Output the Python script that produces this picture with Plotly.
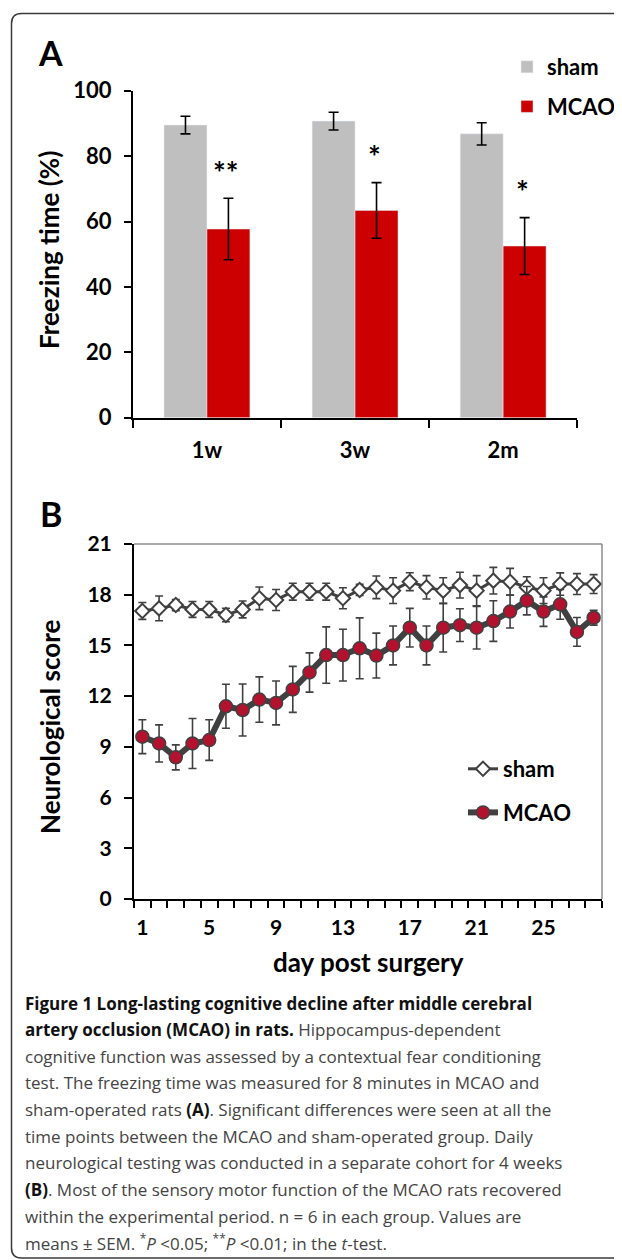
import plotly.graph_objects as go

# ---------------- data ----------------
groups = ["sham", "MCAO"]
timepoints = ["1w", "3w", "2m"]
sham_freeze = [89.5, 90.7, 86.8]
sham_freeze_err = [2.7, 2.7, 3.4]
mcao_freeze = [57.7, 63.4, 52.5]
mcao_freeze_err = [9.4, 8.5, 8.7]
signif = ["**", "*", "*"]

days = list(range(1, 29))
day_tick_labels = [1, 5, 9, 13, 17, 21, 25]
sham_score = [17.04, 17.19, 17.39, 17.13, 17.13, 16.8, 17.13, 17.79, 17.69, 18.18,
              18.18, 18.18, 17.79, 18.28, 18.44, 18.24, 18.77, 18.44, 18.24, 18.57,
              18.24, 18.83, 18.77, 18.44, 18.24, 18.63, 18.63, 18.63]
sham_score_err = [0.5, 0.73, 0.33, 0.47, 0.47, 0.4, 0.5, 0.67, 0.62, 0.5,
                  0.5, 0.5, 0.62, 0.33, 0.67, 0.76, 0.53, 0.69, 0.76, 0.76,
                  0.89, 0.79, 0.79, 0.62, 0.76, 0.66, 0.62, 0.56]
mcao_score = [9.6, 9.2, 8.38, 9.2, 9.4, 11.4, 11.18, 11.8, 11.6, 12.4,
              13.4, 14.43, 14.43, 14.83, 14.4, 15.0, 16.05, 15.0, 16.05, 16.2,
              16.05, 16.44, 17.0, 17.65, 17.0, 17.43, 15.8, 16.64]
mcao_score_err = [1.0, 1.1, 0.74, 1.48, 1.2, 1.3, 1.54, 1.34, 1.3, 1.36,
                  1.16, 1.67, 1.53, 1.8, 1.33, 1.15, 1.14, 1.15, 1.44, 0.97,
                  1.26, 1.2, 0.97, 0.84, 0.87, 0.88, 0.85, 0.44]

caption_lines = [
    "<span style='color:#111111'><b>Figure 1 Long-lasting cognitive decline after middle cerebral</b></span>",
    "<span style='color:#111111'><b>artery occlusion (MCAO) in rats.</b></span> Hippocampus-dependent",
    "cognitive function was assessed by a contextual fear conditioning",
    "test. The freezing time was measured for 8 minutes in MCAO and",
    "sham-operated rats <span style='color:#111111'><b>(A)</b></span>. Significant differences were seen at all the",
    "time points between the MCAO and sham-operated group. Daily",
    "neurological testing was conducted in a separate cohort for 4 weeks",
    "<span style='color:#111111'><b>(B)</b></span>. Most of the sensory motor function of the MCAO rats recovered",
    "within the experimental period. n = 6 in each group. Values are",
    "means ± SEM. <sup>*</sup><i>P</i> &lt;0.05; <sup>**</sup><i>P</i> &lt;0.01; in the <i>t</i>-test.",
]

# ---------------- layout helpers ----------------
OFF = 8  # page body margin
W, H = 622 - OFF, 1260 - OFF
def px(x):
    return (x - OFF) / W
def py(y):
    return 1 - (y - OFF) / H

FONT = "Lato"
GRAY_BAR = "#BFBFBF"
RED_BAR = "#CC0000"
LINE_COL = "#404040"
DOT_RED = "#B3122E"

fig = go.Figure()

# ---------------- panel A ----------------
fig.add_trace(go.Bar(
    x=timepoints, y=sham_freeze, name=groups[0], marker_color=GRAY_BAR,
    error_y=dict(type="data", array=sham_freeze_err, color="black", thickness=1.6, width=5),
    xaxis="x", yaxis="y", legend="legend", legendgroup="a1",
))
fig.add_trace(go.Bar(
    x=timepoints, y=mcao_freeze, name=groups[1], marker_color=RED_BAR,
    error_y=dict(type="data", array=mcao_freeze_err, color="black", thickness=1.6, width=5),
    xaxis="x", yaxis="y", legend="legend", legendgroup="a2",
))

# significance stars
for tp, m, e, s in zip(timepoints, mcao_freeze, mcao_freeze_err, signif):
    fig.add_annotation(x=tp, y=m + e + 8.0, xref="x", yref="y", text=s, showarrow=False,
                       xshift=19, font=dict(family=FONT, size=30, color="black", weight="bold"),
                       xanchor="center", yanchor="middle")

# ---------------- panel B ----------------
fig.add_trace(go.Scatter(
    x=days, y=sham_score, name=groups[0], mode="lines+markers",
    line=dict(color=LINE_COL, width=3),
    marker=dict(symbol="diamond", size=11, color="white", line=dict(color=LINE_COL, width=2)),
    error_y=dict(type="data", array=sham_score_err, color=LINE_COL, thickness=1.6, width=4),
    xaxis="x2", yaxis="y2", legend="legend2", legendgroup="b1",
))
fig.add_trace(go.Scatter(
    x=days, y=mcao_score, name=groups[1], mode="lines+markers",
    line=dict(color=LINE_COL, width=6),
    marker=dict(symbol="circle", size=13, color=DOT_RED, line=dict(color=LINE_COL, width=1.5)),
    error_y=dict(type="data", array=mcao_score_err, color=LINE_COL, thickness=1.6, width=4),
    xaxis="x2", yaxis="y2", legend="legend2", legendgroup="b2",
))

tickfont_a = dict(family=FONT, size=22, color="black", weight="bold")
tickfont_b = dict(family=FONT, size=21, color="black", weight="bold")

fig.update_layout(
    width=W, height=H,
    margin=dict(l=0, r=0, t=0, b=0, autoexpand=False),
    paper_bgcolor="white", plot_bgcolor="white",
    barmode="group", bargap=0.42, bargroupgap=0.0,
    xaxis=dict(domain=[px(132.9), px(577.2)], type="category", tickson="boundaries",
               ticks="outside", ticklen=8, tickwidth=2, tickcolor="black",
               showline=True, linecolor="black", linewidth=2, showgrid=False,
               tickfont=tickfont_a, ticklabelstandoff=12, anchor="y", fixedrange=True),
    yaxis=dict(domain=[py(417.7), py(90.7)], range=[0, 100], dtick=20,
               ticks="outside", ticklen=7, tickwidth=2, tickcolor="black",
               showline=True, linecolor="black", linewidth=2, showgrid=False, zeroline=False,
               tickfont=tickfont_a, ticklabelstandoff=8, anchor="x"),
    xaxis2=dict(domain=[px(134), px(602)], range=[0.5, 28.5],
                tickmode="array", tickvals=day_tick_labels, ticks="",
                minor=dict(tick0=0.5, dtick=1, ticks="outside", ticklen=7, tickwidth=2,
                           tickcolor="black", showgrid=False),
                showline=True, linecolor="black", linewidth=2, showgrid=False, zeroline=False,
                tickfont=tickfont_b, ticklabelstandoff=9, anchor="y2"),
    yaxis2=dict(domain=[py(899), py(544)], range=[0, 21], dtick=3,
                ticks="outside", ticklen=8, tickwidth=2, tickcolor="black",
                showline=True, linecolor="black", linewidth=2, showgrid=False, zeroline=False,
                tickfont=tickfont_b, ticklabelstandoff=8, anchor="x2"),
    legend=dict(x=px(507), y=py(46), xanchor="left", yanchor="top",
                bgcolor="rgba(0,0,0,0)", traceorder="grouped", tracegroupgap=8,
                font=dict(family=FONT, size=22, color="black", weight="bold"), itemwidth=30),
    legend2=dict(x=px(463), y=py(748), xanchor="left", yanchor="top",
                 bgcolor="rgba(0,0,0,0)", traceorder="grouped", tracegroupgap=12,
                 font=dict(family=FONT, size=22, color="black", weight="bold"), itemwidth=30),
    showlegend=True,
)

# top/right gray frame of panel B
fig.add_shape(type="line", xref="x2 domain", yref="y2 domain", x0=0, x1=1, y0=1, y1=1,
              line=dict(color="#8C8C8C", width=1.5))
fig.add_shape(type="line", xref="x2 domain", yref="y2 domain", x0=1, x1=1, y0=0, y1=1,
              line=dict(color="#8C8C8C", width=1.5))

# rounded figure border
L, T, B, R, r = 11.5, 13.5, 1258.0, 700.0, 10.0
path = (f"M {px(R)},{py(T)} L {px(L + r)},{py(T)} Q {px(L)},{py(T)} {px(L)},{py(T + r)} "
        f"L {px(L)},{py(B - r)} Q {px(L)},{py(B)} {px(L + r)},{py(B)} L {px(R)},{py(B)}")
fig.add_shape(type="path", xref="paper", yref="paper", path=path,
              line=dict(color="#3A3A3A", width=1.5))

# panel letters
fig.add_annotation(x=px(50.5), y=py(52), xref="paper", yref="paper", text="A", showarrow=False,
                   font=dict(family=FONT, size=34, color="black", weight="bold"),
                   xanchor="center", yanchor="middle")
fig.add_annotation(x=px(50.5), y=py(513), xref="paper", yref="paper", text="B", showarrow=False,
                   font=dict(family=FONT, size=34, color="black", weight="bold"),
                   xanchor="center", yanchor="middle")

# axis titles
title_font = dict(family=FONT, size=26, color="black", weight="bold")
fig.add_annotation(x=px(49), y=py(250), xref="paper", yref="paper", text="Freezing time (%)",
                   textangle=-90, showarrow=False, font=title_font, xanchor="center", yanchor="middle")
fig.add_annotation(x=px(50), y=py(727), xref="paper", yref="paper", text="Neurological score",
                   textangle=-90, showarrow=False, font=title_font, xanchor="center", yanchor="middle")
fig.add_annotation(x=px(368), y=py(962), xref="paper", yref="paper", text="day post surgery",
                   showarrow=False, font=title_font, xanchor="center", yanchor="middle")

# caption
for i, line in enumerate(caption_lines):
    fig.add_annotation(x=px(22.5), y=py(1003 + i * 26.65), xref="paper", yref="paper",
                       text=line, showarrow=False, xanchor="left", yanchor="middle", align="left",
                       font=dict(family="Open Sans", size=17, color="#444444"))

fig.write_html("out.html")
